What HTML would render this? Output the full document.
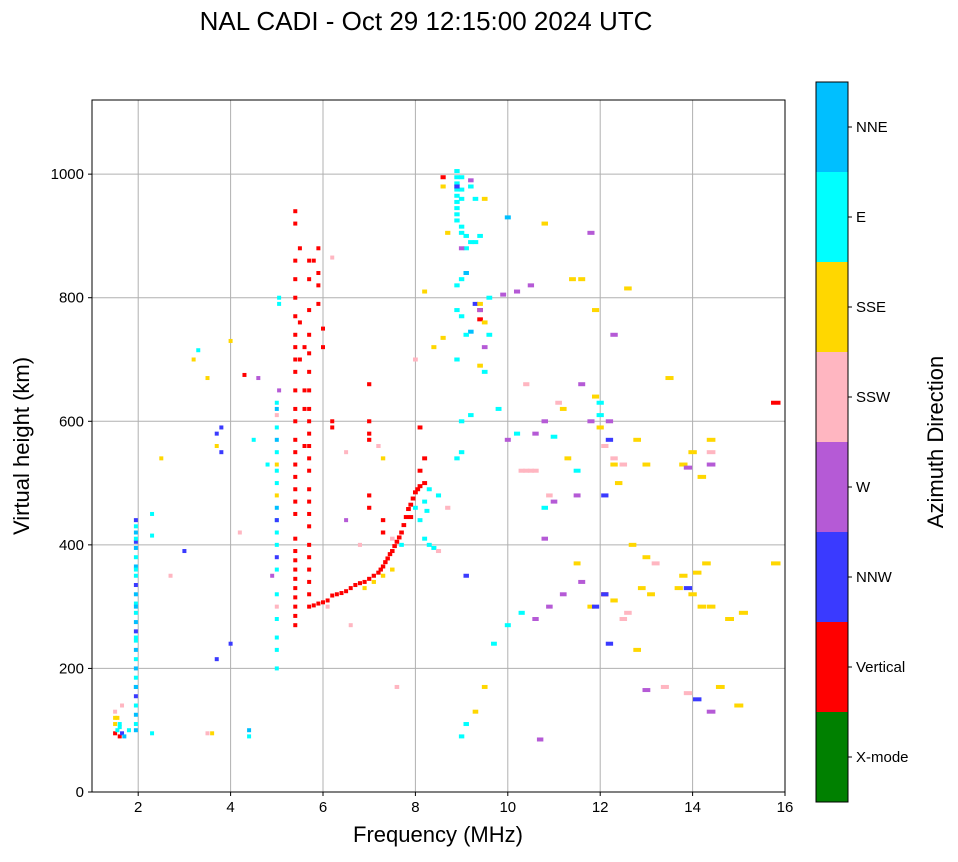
<!DOCTYPE html>
<html><head><meta charset="utf-8"><style>
body{margin:0;background:#fff;font-family:"Liberation Sans",sans-serif}
svg text{font-family:"Liberation Sans",sans-serif}
</style></head><body>
<svg id="chart" width="958" height="857" xmlns="http://www.w3.org/2000/svg">
<text x="426" y="30" font-size="26" text-anchor="middle">NAL CADI - Oct 29 12:15:00 2024 UTC</text>
<g id="grid"></g>
<g id="marks"></g>
<rect x="92" y="100" width="693" height="692" fill="none" stroke="#000" stroke-width="1"/>
<g id="axes"></g>
<text x="438" y="842" font-size="22" text-anchor="middle">Frequency (MHz)</text>
<text transform="translate(29,446) rotate(-90)" font-size="22" text-anchor="middle">Virtual height (km)</text>
<g id="cbar"></g>
<text transform="translate(943,442) rotate(-90)" font-size="22" text-anchor="middle">Azimuth Direction</text>
</svg>
<script>
const xTicks=[2,4,6,8,10,12,14,16];
const yTicks=[0,200,400,600,800,1000];
const dirNames=["X-mode","Vertical","NNW","W","SSW","SSE","E","NNE"];
const dirColors=["#008000","#ff0000","#3a3aff","#b55ad6","#ffb6c1","#ffd700","#00ffff","#00bfff"];
// observations: frequency (MHz), virtual height (km), direction index
const freqs=[
5.8,5.9,6.0,6.1,6.2,6.3,6.4,6.5,6.6,6.7,6.8,6.9,7.0,7.1,7.2,7.25,7.3,7.35,7.4,7.45,7.5,7.55,7.6,7.65,7.7,7.75,7.8,7.85,7.9,7.95,8.0,8.05,8.1,8.2,
8.2,8.25,8.1,8.2,8.3,8.4,8.5,7.5,7.3,7.1,6.9,7.7,7.9,8.0,
5.4,5.4,5.4,5.4,5.4,5.4,5.4,5.4,5.4,5.4,5.4,5.4,5.4,5.4,5.4,5.4,5.4,5.4,5.4,5.4,5.4,5.4,5.4,5.4,5.4,5.4,5.4,5.4,5.4,5.4,
5.7,5.7,5.7,5.7,5.7,5.7,5.7,5.7,5.7,5.7,5.7,5.7,5.7,5.7,5.7,5.7,5.7,5.7,5.7,5.7,5.7,5.7,5.7,
5.5,5.5,5.5,5.6,5.6,5.6,5.6,5.8,5.9,5.9,5.9,5.9,6.0,6.0,6.2,6.2,7.0,7.0,7.0,7.0,7.0,7.0,7.3,7.3,8.1,8.1,8.2,
5.0,5.0,5.0,5.0,5.0,5.0,5.0,5.0,5.0,5.0,5.0,5.0,5.0,5.0,5.0,5.0,5.0,5.0,5.0,5.0,5.0,5.0,5.0,5.05,5.05,5.05,
1.95,1.95,1.95,1.95,1.95,1.95,1.95,1.95,1.95,1.95,1.95,1.95,1.95,1.95,1.95,1.95,1.95,1.95,1.95,1.95,1.95,1.95,1.95,1.95,1.95,1.95,1.95,1.95,1.95,1.95,
1.5,1.5,1.5,1.55,1.55,1.6,1.6,1.65,1.65,1.5,1.6,1.7,1.8,2.3,2.3,2.3,3.3,3.5,3.6,3.7,4.0,4.4,4.4,
8.9,8.9,8.9,8.9,8.9,8.9,8.9,8.9,8.9,9.0,9.0,9.0,9.0,9.0,9.1,9.1,9.2,9.2,9.3,9.4,9.3,9.1,9.0,8.9,8.9,9.0,9.2,9.4,9.5,9.6,8.7,8.6,8.9,9.1,
9.3,9.4,9.5,9.0,9.2,9.0,8.9,9.4,9.5,9.8,10.0,10.2,10.5,10.8,10.9,11.0,11.3,11.5,11.8,12.0,12.2,12.0,12.1,12.3,12.4,12.8,13.0,13.5,13.8,13.9,14.0,14.2,14.4,14.4,14.4,
10.4,10.6,10.8,11.0,11.2,11.5,11.6,11.9,12.0,12.1,12.3,12.5,12.7,13.0,13.2,13.7,14.0,14.2,14.4,14.8,15.1,15.8,15.8,
10.3,10.4,10.6,10.8,11.1,11.5,11.8,12.1,12.3,12.6,12.9,13.1,13.8,13.9,14.1,14.3,14.6,
9.0,9.1,9.3,9.5,9.7,10.0,10.3,10.6,10.9,11.2,11.6,11.9,12.2,12.5,12.8,13.4,13.9,14.1,14.4,15.0,
4.3,4.6,3.8,3.8,4.0,3.2,3.5,3.7,4.5,4.8,6.5,6.8,7.5,8.3,8.5,8.7,4.2,3.0,2.7,2.5,3.7,4.9,6.1,6.6,7.6,7.2,7.3,6.5,8.0,8.4,8.6,9.4,9.4,9.6,9.9,10.2,10.5,11.4,11.6,11.9,12.3,12.2,12.6,10.0,10.8,11.8,8.6,8.9,9.2,9.5,6.2,9.0,8.2,9.1,12.1,13.0,10.7
];
const heights=[
302,305,307,310,318,320,322,325,330,335,338,340,345,350,355,360,365,372,378,385,390,398,405,412,420,432,445,458,465,475,485,490,495,500,
470,455,440,410,400,395,390,360,350,340,330,400,445,460,
270,285,300,315,330,345,360,375,390,410,450,470,490,510,530,550,570,600,620,650,680,700,720,740,770,800,830,860,920,940,
300,320,340,360,380,400,430,450,470,490,520,540,560,580,600,620,650,680,710,740,780,830,860,
880,760,700,720,650,620,560,860,880,840,820,790,750,720,600,590,600,580,570,480,460,660,440,420,590,520,540,
200,230,250,280,300,320,360,380,400,420,440,460,480,500,520,550,570,590,610,620,630,530,440,790,800,650,
100,110,125,140,155,170,185,200,215,230,245,260,275,290,305,320,335,350,365,380,395,405,410,420,430,440,360,300,250,170,
95,110,130,100,120,90,110,95,140,120,105,90,100,95,450,415,715,95,95,215,240,90,100,
1005,995,985,975,965,955,945,935,925,915,905,995,975,960,900,880,890,980,960,900,890,840,830,820,780,770,745,765,760,740,905,980,700,740,
790,780,720,600,610,550,540,690,680,620,570,580,520,460,480,575,540,520,600,610,600,590,480,540,500,570,530,670,530,525,550,510,570,550,530,
660,580,600,470,620,480,660,640,630,560,530,530,400,380,370,330,320,300,300,280,290,370,630,
520,520,520,410,630,370,300,320,310,290,330,320,350,330,355,370,170,
90,110,130,170,240,270,290,280,300,320,340,300,240,280,230,170,160,150,130,140,
675,670,590,550,730,700,670,560,570,530,440,400,410,490,480,460,420,390,350,540,580,350,300,270,170,560,540,550,700,720,735,790,780,800,805,810,820,830,830,780,740,570,815,930,920,905,995,980,990,960,865,880,810,350,320,165,85
];
const dirs=[
1,1,1,1,1,1,1,1,1,1,1,1,1,1,1,1,1,1,1,1,1,1,1,1,1,1,1,1,1,1,1,1,1,1,
6,6,6,6,6,6,4,5,5,5,5,6,1,6,
1,1,1,1,1,1,1,1,1,1,1,1,1,1,1,1,1,1,1,1,1,1,1,1,1,1,1,1,1,1,
1,1,1,1,1,1,1,1,1,1,1,1,1,1,1,1,1,1,1,1,1,1,1,
1,1,1,1,1,1,1,1,1,1,1,1,1,1,1,1,1,1,1,1,1,1,1,1,1,1,1,
6,6,6,6,4,6,6,2,6,6,6,7,5,6,6,6,7,6,4,7,6,5,2,6,6,3,
7,6,7,6,2,7,6,7,6,7,6,2,7,6,6,7,2,6,7,6,7,2,6,7,6,2,6,7,6,7,
1,5,4,6,5,1,6,2,4,5,6,7,6,6,6,6,6,4,5,2,2,6,7,
6,6,6,6,6,6,6,6,6,6,6,6,6,6,6,6,6,6,6,6,6,7,6,6,6,6,7,1,5,6,5,5,6,6,
2,1,3,6,6,6,6,5,6,6,3,6,4,6,4,6,5,6,3,6,3,5,2,4,5,5,5,5,5,3,5,5,5,4,3,
4,3,3,3,5,3,3,5,6,4,5,4,5,5,4,5,5,5,5,5,5,5,1,
4,4,4,3,4,5,5,1,5,4,5,5,5,2,5,5,5,
6,6,5,5,6,6,6,3,3,3,3,2,2,4,5,4,4,2,3,5,
1,3,2,2,5,5,5,5,6,6,3,4,4,6,6,4,4,2,4,5,2,3,4,4,4,4,5,4,4,5,5,5,3,6,3,3,3,5,5,5,3,2,5,7,5,3,1,2,3,5,4,3,5,2,2,3,3
];
const NS="http://www.w3.org/2000/svg";
const X0=92,X1=785,Y0=792,Y1=100,FMIN=1,FMAX=16,HMAX=1120;
function xs(f){return X0+(f-FMIN)/(FMAX-FMIN)*(X1-X0);}
function ys(h){return Y0-h/HMAX*(Y0-Y1);}
function mk(tag,attrs,parent){const e=document.createElementNS(NS,tag);for(const k in attrs)e.setAttribute(k,attrs[k]);parent.appendChild(e);return e;}
const grid=document.getElementById('grid'),axes=document.getElementById('axes'),marks=document.getElementById('marks'),cbar=document.getElementById('cbar');
xTicks.forEach(t=>{const x=xs(t);
 if(t<16){const l=mk('line',{x1:x,x2:x,y1:Y1,y2:Y0,stroke:'#b0b0b0','stroke-width':1},grid);
 
 }
 const tk=mk('line',{x1:x,x2:x,y1:Y0,y2:Y0+4,stroke:'#000'},axes);
 
 
 const tx=mk('text',{x:x,y:Y0+20,'font-size':15,'text-anchor':'middle'},axes);tx.textContent=t;
 
 });
yTicks.forEach(t=>{const y=ys(t);
 if(t>0){const l=mk('line',{x1:X0,x2:X1,y1:y,y2:y,stroke:'#b0b0b0','stroke-width':1},grid);
 
 }
 const tk=mk('line',{x1:X0-4,x2:X0,y1:y,y2:y,stroke:'#000'},axes);
 
 
 const tx=mk('text',{x:X0-8,y:y+5,'font-size':15,'text-anchor':'end'},axes);tx.textContent=t;
 
 });
for(let i=0;i<freqs.length;i++){const f=freqs[i],h=heights[i];
 const w=Math.max(4,f*0.013*(X1-X0)/(FMAX-FMIN));
 const r=mk('rect',{x:xs(f)-w/2,y:ys(h)-2,width:w,height:4,fill:dirColors[dirs[i]]},marks);
 
 }
const CX=816,CW=32,CT=82,CB=802,seg=(CB-CT)/dirNames.length;
dirNames.forEach((n,i)=>{const y=CB-(i+1)*seg;
 const r=mk('rect',{x:CX,y:y,width:CW,height:seg,fill:dirColors[i]},cbar);
 
 
 const tk=mk('line',{x1:CX+CW,x2:CX+CW+4,y1:y+seg/2,y2:y+seg/2,stroke:'#000'},cbar);
 
 
 const tx=mk('text',{x:CX+CW+8,y:y+seg/2+5,'font-size':15},cbar);tx.textContent=n;
 
 });
const fr=mk('rect',{x:CX,y:CT,width:CW,height:CB-CT,fill:'none',stroke:'#000'},cbar);


</script>
</body></html>
